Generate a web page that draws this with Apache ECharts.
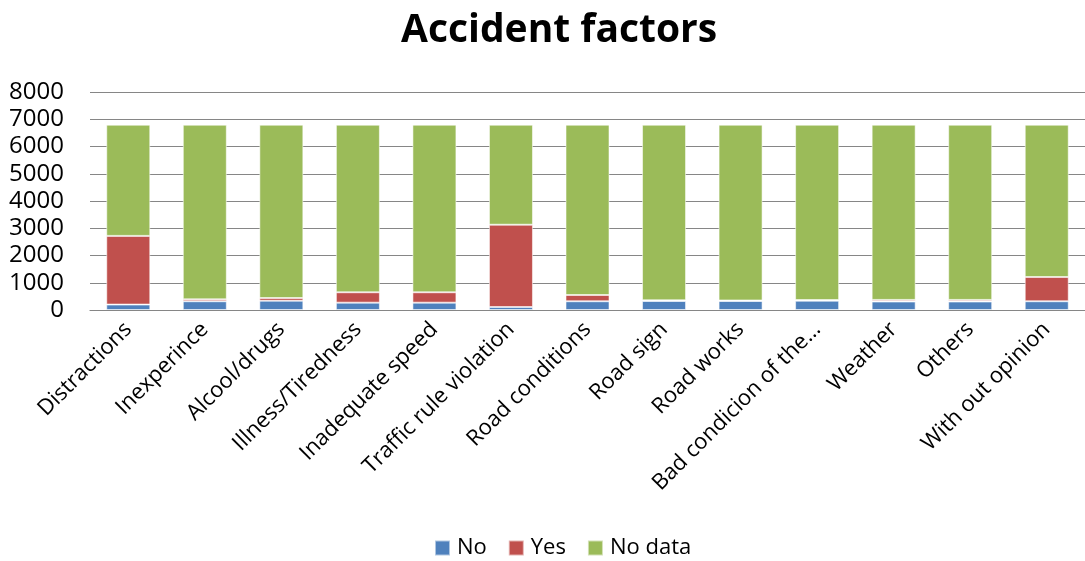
<!DOCTYPE html>
<html>
<head>
<meta charset="utf-8">
<script src="https://cdn.jsdelivr.net/npm/echarts@6/dist/echarts.min.js"></script>
<style>
html,body{margin:0;padding:0;background:#fff;}
#chart{width:1085px;height:561px;}
</style>
</head>
<body>
<div id="chart"></div>
<script>
const categories = ["Distractions","Inexperince","Alcool/drugs","Illness/Tiredness","Inadequate speed","Traffic rule violation","Road conditions","Road sign","Road works","Bad condicion of the…","Weather","Others","With out opinion"];
const noValues = [200, 320, 340, 270, 270, 110, 320, 330, 330, 340, 310, 310, 320];
const yesValues = [2520, 70, 100, 380, 380, 3020, 230, 25, 20, 25, 60, 60, 890];
const noDataValues = [4080, 6410, 6360, 6150, 6150, 3670, 6250, 6445, 6450, 6435, 6430, 6430, 5590];
const yTicks = [0, 1000, 2000, 3000, 4000, 5000, 6000, 7000, 8000];

const FONT = "'Open Sans', 'Noto Sans', sans-serif";
const chart = echarts.init(document.getElementById('chart'), null, {renderer: 'canvas'});
const barStyle = (c) => ({color: c, borderColor: 'rgba(255,255,255,0.55)', borderWidth: 1});
chart.setOption({
  animation: false,
  title: {
    text: 'Accident factors',
    left: 396,
    top: 6,
    textStyle: {fontFamily: FONT, fontWeight: 'bold', fontSize: 39, color: '#000'}
  },
  legend: {
    left: 429,
    top: 532,
    padding: 5,
    itemWidth: 15,
    itemHeight: 15,
    itemGap: 21,
    icon: 'rect',
    textStyle: {fontFamily: FONT, fontSize: 22, color: '#000', padding: [0, 0, 0, 2]},
    data: ['No', 'Yes', 'No data']
  },
  grid: {left: 90, right: -8, top: 92, bottom: 251, containLabel: false},
  xAxis: {
    type: 'category',
    data: categories,
    axisLine: {show: true, lineStyle: {color: '#868686', width: 1.2}},
    axisTick: {show: false},
    axisLabel: {rotate: 45, interval: 0, margin: 16, fontFamily: FONT, fontSize: 22, color: '#000'}
  },
  yAxis: {
    type: 'value',
    min: yTicks[0],
    max: yTicks[yTicks.length - 1],
    interval: 1000,
    axisLine: {show: false},
    axisTick: {show: false},
    splitLine: {show: true, lineStyle: {color: '#868686', width: 1.2}},
    axisLabel: {margin: 26, fontFamily: FONT, fontSize: 24, color: '#000', formatter: (v) => String(v)}
  },
  series: [
    {name: 'No', type: 'bar', stack: 'total', data: noValues, barWidth: 44, itemStyle: barStyle('#4F81BD')},
    {name: 'Yes', type: 'bar', stack: 'total', data: yesValues, barWidth: 44, itemStyle: barStyle('#C0504D')},
    {name: 'No data', type: 'bar', stack: 'total', data: noDataValues, barWidth: 44, itemStyle: barStyle('#9BBB59')}
  ]
});
</script>
</body>
</html>
